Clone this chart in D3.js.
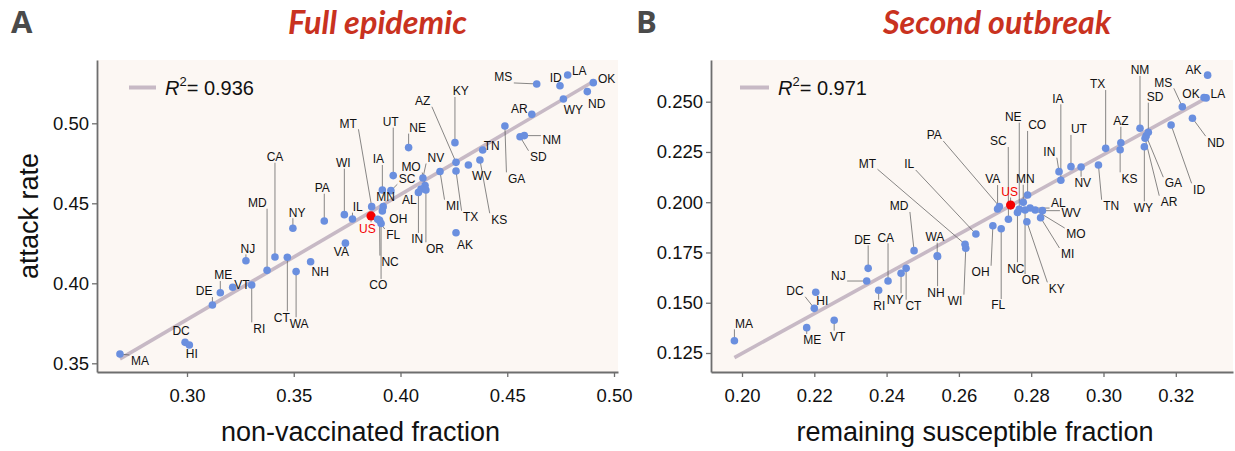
<!DOCTYPE html>
<html>
<head>
<meta charset="utf-8">
<script src="https://cdn.jsdelivr.net/npm/d3@7"></script>
<style>
  body { margin: 0; background: #fff; }
  svg text { font-family: "Liberation Sans", Arial, Helvetica, sans-serif; }
</style>
</head>
<body>
<svg id="chart" width="1235" height="451"></svg>
<script>
// states (same order in both panels), US average is the red one
var states = ["MA","DC","HI","DE","ME","VT","RI","NJ","MD","CA","CT","WA","NY","NH","PA","WI","VA","IL","MT","US",
  "MN","OH","FL","NC","CO","IA","SC","UT","NE","NV","MO","AL","IN","OR","MI","TX","AZ","KY","WV","KS",
  "TN","AK","GA","AR","SD","NM","MS","ID","LA","OK","WY","ND"];

// panel A : full epidemic
var nonVaccinated = [0.2686,0.2991,0.3011,0.3119,0.3156,0.3214,0.3303,0.3276,0.3375,0.3412,0.3470,0.3511,0.3496,0.3579,0.3643,0.3737,0.3742,0.3775,0.3865,0.3862,
  0.3919,0.3915,0.3893,0.3902,0.3909,0.3915,0.3955,0.3966,0.4038,0.4105,0.4115,0.4096,0.4084,0.4119,0.4185,0.4260,0.4260,0.4255,0.4318,0.4372,
  0.4385,0.4260,0.4489,0.4615,0.4560,0.4580,0.4638,0.4747,0.4783,0.4903,0.4763,0.4875];
var attackFull = [0.3558,0.3631,0.3614,0.3864,0.3941,0.3975,0.3989,0.4141,0.4081,0.4164,0.4163,0.4073,0.4344,0.4135,0.4389,0.4429,0.4251,0.4402,0.4479,0.4421,
  0.4479,0.4452,0.4400,0.4393,0.4374,0.4583,0.4579,0.4673,0.4848,0.4658,0.4611,0.4589,0.4568,0.4583,0.4699,0.4702,0.4756,0.4879,0.4739,0.4771,
  0.4833,0.4316,0.4983,0.5056,0.4916,0.4923,0.5246,0.5235,0.5302,0.5254,0.5152,0.5198];

// panel B : second outbreak
var remainingSusceptible = [0.1979,0.2200,0.2204,0.2349,0.2179,0.2255,0.2378,0.2345,0.2476,0.2404,0.2454,0.2540,0.2440,0.2541,0.2712,0.2619,0.2707,0.2647,0.2617,0.2743,
  0.2778,0.2694,0.2717,0.2762,0.2790,0.2882,0.2737,0.2910,0.2767,0.2938,0.2811,0.2797,0.2877,0.2783,0.2826,0.3006,0.3048,0.2788,0.2831,0.3046,
  0.2986,0.3288,0.3118,0.3115,0.3124,0.3101,0.3218,0.3187,0.3284,0.3278,0.3113,0.3246];
var attackSecond = [0.1311,0.1472,0.1552,0.1671,0.1376,0.1413,0.1562,0.1608,0.1759,0.1608,0.1671,0.1734,0.1647,0.1730,0.1979,0.1771,0.1966,0.1842,0.1791,0.1986,
  0.2000,0.1883,0.1868,0.1949,0.2036,0.2109,0.1915,0.2177,0.1965,0.2175,0.1961,0.1971,0.2152,0.1961,0.1923,0.2268,0.2296,0.1903,0.1958,0.2261,
  0.2185,0.2632,0.2330,0.2318,0.2348,0.2368,0.2475,0.2384,0.2519,0.2521,0.2276,0.2418];

// regression fits [intercept, slope] and R2
var fitA = [0.1427, 0.782];
var fitB = [-0.0729, 0.9885];
var r2Labels = ["0.936", "0.971"];

// tick labels
var xTicksA = [0.30, 0.35, 0.40, 0.45, 0.50];
var yTicksA = [0.35, 0.40, 0.45, 0.50];
var xTicksB = [0.20, 0.22, 0.24, 0.26, 0.28, 0.30, 0.32];
var yTicksB = [0.125, 0.150, 0.175, 0.200, 0.225, 0.250];

// label nudges (pixels from the point), repel-style
var nudgeA = [[20,7],[-4,-11.3],[2.4,9],[-8.3,-14],[3,-17.7],[9.3,-3],[7.6,43.3],[2,-12.4],[-9.7,-67.6],[0,-100.3],
  [-5.6,60],[3,51.6],[4.3,-16],[9.6,10],[-2,-33.3],[-1,-52],[-4,8.5],[5.2,-12.3],[-23.4,-83.4],[-3.7,12.3],
  [2.4,-10],[16,7.3],[15.6,15.7],[10.5,41.2],[-2.7,61.5],[-4,-31],[16.3,-12.4],[-2.6,-54],[9,-20],[13,-20.5],
  [-14,-19],[-11.7,11],[-1.2,46.5],[9,58.3],[12.7,34.2],[14.7,45.7],[-33.3,-61.6],[5.7,-51.7],[13.4,10.7],[19.3,59.3],
  [9,-4.3],[9,11.6],[11.7,52.3],[-12.4,-6],[18.3,20],[27.4,4.3],[-33.4,-7],[-4.3,-8.4],[11.6,-4.3],[13.4,-4.4],
  [10,11],[9.4,11.6]];
var nudgeB = [[9.7,-17.4],[-19.3,-17.6],[6.6,8.4],[-5.7,-29],[5.6,12.3],[3.4,16.4],[0.6,15.4],[-28.4,-5],[-15,-44.7],[-2.3,-43.7],
  [7.3,37.4],[-2.3,-19],[-6,26],[-1.6,35.7],[-65.2,-71.5],[-10.7,52.4],[-4.8,-30],[-66.7,-70],[-97.7,-81],[-1,-13.5],
  [2,-23.5],[-12.3,46],[-3,76.3],[-1.6,55.8],[9.6,-70],[-3,-82],[-10,-78.3],[8,-37.7],[-6,-92.6],[1.7,15.7],
  [40.7,24],[28.3,-5.7],[-9.7,-20],[5.7,70],[27,36.3],[-8,-64.3],[0,-22],[30,66.6],[28.7,1.6],[9.3,28.6],
  [12.7,40.7],[-14,-5.3],[27.3,47.3],[24,63.4],[6.7,-35.6],[0,-58.3],[-19,-24.4],[28,64.3],[11.7,-4],[-13,-4.2],
  [-1,60.6],[23.4,24]];

var svg = d3.select('#chart');

function drawPanel(cfg) {
  var g = svg.append('g');
  var L = cfg.box[0], R = cfg.box[1], T = cfg.box[2], B = cfg.box[3];

  // anchor two tick positions, then stretch the scale over the whole plot box
  var xa = d3.scaleLinear().domain(cfg.xAnchor).range(cfg.xPix);
  var ya = d3.scaleLinear().domain(cfg.yAnchor).range(cfg.yPix);
  var x = d3.scaleLinear().domain([xa.invert(L), xa.invert(R)]).range([L, R]);
  var y = d3.scaleLinear().domain([ya.invert(B), ya.invert(T)]).range([B, T]);

  g.append('rect').attr('x', L).attr('y', T).attr('width', R - L).attr('height', B - T)
    .attr('fill', '#fcf7f3');

  var xAxis = g.append('g').attr('transform', 'translate(0,' + B + ')')
    .call(d3.axisBottom(x).tickValues(cfg.xTicks).tickFormat(d3.format(cfg.xFmt))
      .tickSize(5).tickSizeOuter(0).tickPadding(12));
  var yAxis = g.append('g').attr('transform', 'translate(' + L + ',0)')
    .call(d3.axisLeft(y).tickValues(cfg.yTicks).tickFormat(d3.format(cfg.yFmt))
      .tickSize(5).tickSizeOuter(0).tickPadding(3));
  [xAxis, yAxis].forEach(function (a) {
    a.select('.domain').attr('stroke', '#6e6e6e').attr('stroke-width', 1.8);
    a.selectAll('.tick line').attr('stroke', '#6e6e6e').attr('stroke-width', 1.3);
    a.selectAll('.tick text').attr('font-size', 18.5).attr('fill', '#111')
      .style('font-family', '"Liberation Sans", Arial, sans-serif');
  });

  var pts = states.map(function (s, i) {
    return { s: s, x: cfg.xs[i], y: cfg.ys[i], dx: cfg.nudge[i][0], dy: cfg.nudge[i][1] };
  });

  // fitted line over data range
  var ext = d3.extent(cfg.xs);
  var fitPts = ext.map(function (v) { return [v, cfg.fit[0] + cfg.fit[1] * v]; });
  g.append('path').datum(fitPts)
    .attr('d', d3.line().x(function (d) { return x(d[0]); }).y(function (d) { return y(d[1]); }))
    .attr('stroke', '#c7b9c5').attr('stroke-width', 3.6).attr('fill', 'none');

  var segG = g.append('g');
  var dotG = g.append('g');
  var labG = g.append('g');

  dotG.selectAll('circle').data(pts).enter().append('circle')
    .attr('cx', function (d) { return x(d.x); })
    .attr('cy', function (d) { return y(d.y); })
    .attr('r', function (d) { return d.s === 'US' ? 4.6 : 3.8; })
    .attr('fill', function (d) { return d.s === 'US' ? '#f40000' : '#6a8fdf'; });

  labG.selectAll('text').data(pts).enter().append('text')
    .attr('x', function (d) { return x(d.x) + d.dx; })
    .attr('y', function (d) { return y(d.y) + d.dy; })
    .attr('dy', '0.36em')
    .attr('text-anchor', 'middle')
    .attr('font-size', 12)
    .attr('fill', function (d) { return d.s === 'US' ? '#f40000' : '#111'; })
    .text(function (d) { return d.s; })
    .each(function (d) { d.w = this.getComputedTextLength(); });

  // segment from point to nearest edge of its label box
  pts.forEach(function (d) {
    var px = x(d.x), py = y(d.y);
    var cx = px + d.dx, cy = py + d.dy;
    var hw = d.w / 2 + 1.5, hh = 6;
    var ex = Math.max(cx - hw, Math.min(px, cx + hw));
    var ey = Math.max(cy - hh, Math.min(py, cy + hh));
    if (Math.hypot(ex - px, ey - py) > 6) {
      segG.append('line').attr('x1', px).attr('y1', py).attr('x2', ex).attr('y2', ey)
        .attr('stroke', '#555').attr('stroke-width', 0.7);
    }
  });

  // legend
  g.append('line').attr('x1', cfg.legend[0]).attr('x2', cfg.legend[1])
    .attr('y1', 87.5).attr('y2', 87.5)
    .attr('stroke', '#c7b9c5').attr('stroke-width', 4);
  var lt = g.append('text').attr('x', cfg.legend[1] + 9).attr('y', 95).attr('font-size', 20).attr('fill', '#111');
  lt.append('tspan').attr('font-style', 'italic').text('R');
  lt.append('tspan').attr('font-size', 13).attr('dy', -9).text('2');
  lt.append('tspan').attr('dy', 9).text('= ' + cfg.r2);

  // panel letter and title
  svg.append('text').attr('x', cfg.letterX).attr('y', 32.5)
    .attr('font-size', 31).attr('font-weight', 'bold').attr('fill', '#4a4a4a')
    .style('font-family', '"Open Sans", "Liberation Sans", sans-serif')
    .text(cfg.letter);
  svg.append('text').attr('x', cfg.titleX[0]).attr('y', 33.5)
    .attr('font-size', 32).attr('font-weight', 'bold').attr('font-style', 'italic')
    .attr('fill', '#c9321f')
    .attr('textLength', cfg.titleX[1] - cfg.titleX[0]).attr('lengthAdjust', 'spacingAndGlyphs')
    .style('font-family', 'Lato, "Open Sans", sans-serif')
    .text(cfg.title);

  // axis titles
  svg.append('text').attr('x', (L + R) / 2 + 3).attr('y', 441)
    .attr('text-anchor', 'middle').attr('font-size', 27).attr('fill', '#111')
    .text(cfg.xLabel);
  if (cfg.yLabel) {
    svg.append('text').attr('transform', 'translate(38,' + ((T + B) / 2) + ') rotate(-90)')
      .attr('text-anchor', 'middle').attr('font-size', 27).attr('fill', '#111')
      .text(cfg.yLabel);
  }
}

drawPanel({
  box: [97, 618, 60, 372],
  xAnchor: [0.30, 0.50], xPix: [187, 614],
  yAnchor: [0.35, 0.50], yPix: [363.3, 123.3],
  xTicks: xTicksA, yTicks: yTicksA, xFmt: '.2f', yFmt: '.2f',
  xs: nonVaccinated, ys: attackFull, nudge: nudgeA, fit: fitA, r2: r2Labels[0],
  legend: [129, 156], letter: 'A', letterX: 11, title: 'Full epidemic', titleX: [288, 467],
  xLabel: 'non-vaccinated fraction', yLabel: 'attack rate'
});

drawPanel({
  box: [711, 1233, 60, 372],
  xAnchor: [0.20, 0.32], xPix: [742, 1175.8],
  yAnchor: [0.125, 0.250], yPix: [353, 101.7],
  xTicks: xTicksB, yTicks: yTicksB, xFmt: '.2f', yFmt: '.3f',
  xs: remainingSusceptible, ys: attackSecond, nudge: nudgeB, fit: fitB, r2: r2Labels[1],
  legend: [740, 769], letter: 'B', letterX: 636, title: 'Second outbreak', titleX: [883, 1111],
  xLabel: 'remaining susceptible fraction', yLabel: null
});
</script>
</body>
</html>
